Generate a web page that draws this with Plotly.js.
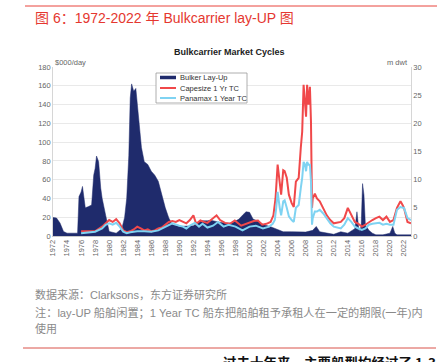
<!DOCTYPE html>
<html>
<head>
<meta charset="utf-8">
<script src="https://cdn.plot.ly/plotly-3.0.1.min.js"></script>
<style>html,body{margin:0;padding:0;background:#fff;}#chart{width:448px;height:362px;}</style>
</head>
<body>
<div id="chart"></div>
<script>
// ---- data ----
const layupYears = [1972.0,1972.5,1973.0,1973.5,1974.0,1975.0,1975.5,1975.7,1976.0,1976.2,1976.4,1976.6,1977.0,1977.5,1977.8,1978.0,1978.2,1978.5,1978.8,1979.0,1979.5,1980.0,1981.0,1981.8,1982.2,1982.5,1982.8,1983.0,1983.2,1983.5,1983.8,1984.0,1984.3,1984.6,1985.0,1985.5,1986.0,1986.5,1987.0,1987.5,1988.0,1988.5,1989.0,1990.0,1991.0,1992.0,1992.5,1993.0,1994.0,1994.5,1995.5,1996.5,1997.5,1998.5,1999.0,1999.5,2000.0,2000.5,2001.4,2002.0,2002.9,2003.8,2004.8,2006.0,2008.0,2009.0,2009.5,2010.0,2011.0,2012.0,2013.0,2014.0,2015.0,2015.3,2015.6,2015.9,2016.1,2016.3,2016.5,2017.0,2017.5,2018.0,2019.0,2020.0,2020.4,2020.7,2021.0,2023.0];
const layupMdwt  = [3.3,3.2,2.3,0.8,0.5,0.5,0.5,7.0,7.8,8.8,6.7,5.0,5.2,5.5,10.8,12.0,14.2,13.2,8.5,6.7,3.7,0.8,0.5,1.3,3.3,6.7,14.3,24.5,27.0,25.7,26.2,23.3,18.5,15.7,13.2,12.7,11.5,10.8,9.7,7.3,5.0,3.2,2.0,1.7,1.8,1.8,2.3,2.7,2.7,2.8,2.5,2.3,2.3,3.0,3.7,4.3,4.2,3.0,2.5,2.0,1.7,1.3,0.75,0.75,0.7,1.0,1.7,0.75,0.5,0.3,0.75,0.5,1.3,4.3,0.8,1.7,9.3,7.3,2.0,1.0,0.5,0.2,0.2,0.5,1.7,0.5,0.2,0.2];

const capeYears = [1976.0,1977.0,1978.0,1979.0,1979.5,1980.0,1980.5,1981.0,1981.5,1982.0,1982.5,1983.0,1983.5,1984.0,1984.5,1985.0,1985.5,1986.0,1986.5,1987.0,1987.5,1988.0,1988.5,1989.0,1989.5,1990.0,1990.5,1991.0,1991.5,1992.0,1992.4,1993.0,1993.5,1994.0,1994.5,1995.3,1995.8,1996.5,1997.2,1997.9,1998.8,1999.5,2000.0,2000.6,2001.2,2001.8,2002.4,2003.0,2003.4,2003.7,2004.0,2004.3,2004.5,2004.8,2005.0,2005.3,2005.6,2006.0,2006.3,2006.6,2007.0,2007.3,2007.5,2007.7,2007.9,2008.05,2008.2,2008.4,2008.6,2008.75,2008.9,2009.0,2009.3,2009.6,2010.0,2010.5,2011.0,2011.5,2012.0,2013.0,2013.5,2014.0,2014.5,2015.0,2015.5,2016.0,2016.5,2017.0,2017.5,2018.0,2018.5,2019.0,2019.5,2020.0,2020.5,2021.0,2021.5,2021.8,2022.0,2022.5,2023.0];
const capeRate  = [5,4.6,5,10,13.5,17,15,18,13.5,6,4,5,7,10,8,6,7,5,6,8,9,12,15,16,15,17,15,13.5,17,22,13,16.5,15,14,17,22,17,14,13,16.5,11,13,15,16,16.5,12,13,15,22,40,76,58,44,70,69,62,44,35,31,58,62,94,111,161,140,127,161,140,159,122,30,40,45,40,37,30,22,17,13.5,15,19,30,22,15,13,10,12,15,17,19,20.6,17,20.6,15,17,30,37,33,30,15,13.5];

const panaYears = [1976.0,1977.0,1978.0,1979.0,1979.5,1980.0,1980.5,1981.0,1981.5,1982.0,1982.5,1983.0,1984.0,1985.0,1986.0,1987.0,1988.0,1989.0,1990.0,1990.5,1991.0,1991.5,1992.2,1992.8,1993.3,1994.0,1994.8,1995.5,1996.3,1997.0,1998.0,1998.5,1999.0,2000.0,2000.9,2001.9,2002.8,2003.3,2003.6,2003.8,2004.0,2004.3,2004.5,2004.8,2005.0,2005.3,2005.6,2006.0,2006.3,2006.6,2007.0,2007.3,2007.5,2007.7,2007.9,2008.05,2008.2,2008.4,2008.6,2008.75,2008.9,2009.0,2009.3,2009.6,2010.0,2010.5,2011.0,2011.5,2012.0,2013.0,2013.5,2014.0,2014.5,2015.0,2015.5,2016.0,2016.5,2017.0,2017.5,2018.0,2018.5,2019.0,2019.5,2020.0,2020.5,2021.0,2021.5,2021.8,2022.0,2022.5,2023.0];
const panaRate  = [3,3.5,4.6,8,12,13.5,12,14,10,4.6,3,4,5,5,4.6,6,10,13.5,11,10,8,11,14,10,13,9,11,15,10,12,10,8,6,10,11,8,10,13,17,30,47,30,22,37,38,30,21,17,15,30,33,51,62,79,76,69,79,76,76,58,12,19,26,26,28,24,19,13.5,10,8,12,19,15,10,8,6.4,8,12,13,13.5,14,12,13,12,12,28,31,30,30,19,17];

const seriesNames = ["Bulker Lay-Up","Capesize 1 Yr TC","Panamax 1 Year TC"];
const leftTicks  = [0,20,40,60,80,100,120,140,160,180];
const rightTicks = [0,5,10,15,20,25,30];
const yearTicks = [];
for (let y = 1972; y <= 2022; y += 2) yearTicks.push(y);

// ---- styling ----
const NAVY = "#1f2b6c", RED = "#f0484a", CYAN = "#7fd3f2";
const W = 448, H = 362, ML = 53, MR = 37, MT = 67, MB = 126;
const PW = W - ML - MR, PH = H - MT - MB;
const px = x => (x - ML) / PW;
const py = y => 1 - (y - MT) / PH;
const tickFont = {family: "Liberation Sans, Arial, sans-serif", size: 7.5, color: "#666"};

const traces = [
  {x: layupYears, y: layupMdwt, type: "scatter", mode: "lines", fill: "tozeroy",
   fillcolor: NAVY, line: {color: NAVY, width: 0.5}, name: seriesNames[0], yaxis: "y", showlegend: false},
  {x: capeYears, y: capeRate, type: "scatter", mode: "lines",
   line: {color: RED, width: 2}, name: seriesNames[1], yaxis: "y2", showlegend: false},
  {x: panaYears, y: panaRate, type: "scatter", mode: "lines",
   line: {color: CYAN, width: 2}, name: seriesNames[2], yaxis: "y2", showlegend: false}
];

// legend (drawn manually)
const legX0 = 156, legX1 = 247, legY0 = 73, legY1 = 103;
const legRows = [77.5, 88, 98];
const legColors = [NAVY, RED, CYAN];
const legWidths = [3.5, 2, 2];
const shapes = [
  {type: "rect", xref: "paper", yref: "paper", x0: px(legX0), x1: px(legX1), y0: py(legY1), y1: py(legY0),
   line: {color: "#999", width: 0.8}, fillcolor: "#fff", layer: "above"},
  // red rule lines
  {type: "line", xref: "paper", yref: "paper", x0: px(25), x1: px(437), y0: py(6), y1: py(6), line: {color: "#e8453c", width: 1}},
  {type: "line", xref: "paper", yref: "paper", x0: px(23), x1: px(436), y0: py(348), y1: py(348), line: {color: "#d9534a", width: 1}}
];
const annotations = [];
legRows.forEach((ry, i) => {
  shapes.push({type: "line", xref: "paper", yref: "paper", x0: px(160), x1: px(176), y0: py(ry), y1: py(ry),
    line: {color: legColors[i], width: legWidths[i]}, layer: "above"});
  annotations.push({xref: "paper", yref: "paper", x: px(178), y: py(ry), xanchor: "left", yanchor: "middle",
    text: seriesNames[i], showarrow: false, font: {family: "Liberation Sans, Arial, sans-serif", size: 7.5, color: "#333"}});
});

annotations.push(
  {xref: "paper", yref: "paper", x: px(33), y: py(18), xanchor: "left", yanchor: "middle", showarrow: false,
   text: "图 6：1972-2022 年 Bulkcarrier lay-UP 图",
   font: {family: "Liberation Sans, Noto Sans CJK SC, sans-serif", size: 14, color: "#e5372f"}},
  {xref: "paper", yref: "paper", x: px(229), y: py(52), xanchor: "center", yanchor: "middle", showarrow: false,
   text: "<b>Bulkcarrier Market Cycles</b>",
   font: {family: "Liberation Sans, Arial, sans-serif", size: 9, color: "#222"}},
  {xref: "paper", yref: "paper", x: px(53), y: py(62), xanchor: "left", yanchor: "middle", showarrow: false,
   text: "$000/day", font: tickFont},
  {xref: "paper", yref: "paper", x: px(410), y: py(62), xanchor: "right", yanchor: "middle", showarrow: false,
   text: "m dwt", font: tickFont},
  {xref: "paper", yref: "paper", x: px(33), y: py(294), xanchor: "left", yanchor: "middle", showarrow: false,
   text: "数据来源：Clarksons，东方证券研究所",
   font: {family: "Liberation Sans, Noto Sans CJK SC, sans-serif", size: 11, color: "#8a8a8a"}},
  {xref: "paper", yref: "paper", x: px(33), y: py(312), xanchor: "left", yanchor: "middle", showarrow: false,
   text: "注：lay-UP 船舶闲置；1 Year TC 船东把船舶租予承租人在一定的期限(一年)内",
   font: {family: "Liberation Sans, Noto Sans CJK SC, sans-serif", size: 11.2, color: "#8a8a8a"}},
  {xref: "paper", yref: "paper", x: px(33), y: py(329), xanchor: "left", yanchor: "middle", showarrow: false,
   text: "使用",
   font: {family: "Liberation Sans, Noto Sans CJK SC, sans-serif", size: 11, color: "#8a8a8a"}},
  {xref: "paper", yref: "paper", x: px(221), y: py(362), xanchor: "left", yanchor: "middle", showarrow: false,
   text: "<b>过去十年来，主要船型均经过了 1-3</b>",
   font: {family: "Noto Sans CJK SC, sans-serif", size: 13.5, color: "#111"}}
);

const layout = {
  width: W, height: H,
  margin: {l: ML, r: MR, t: MT, b: MB, pad: 0},
  paper_bgcolor: "#fff", plot_bgcolor: "#fff",
  showlegend: false,
  xaxis: {range: [1972, 2023], tickmode: "array", tickvals: yearTicks, ticktext: yearTicks.map(String),
          tickangle: -90, tickfont: tickFont, showgrid: false, zeroline: false,
          showline: true, linecolor: "#bbb", linewidth: 0.8, ticks: "", ticklen: 0},
  yaxis: {range: [0, 30], side: "right", tickmode: "array", tickvals: rightTicks, tickfont: tickFont,
          showgrid: false, zeroline: false, showline: true, linecolor: "#ccc", linewidth: 0.8, ticks: ""},
  yaxis2: {range: [0, 180], overlaying: "y", side: "left", tickmode: "array", tickvals: leftTicks, tickfont: tickFont,
           showgrid: true, gridcolor: "#e3e3e3", gridwidth: 0.8, zeroline: false,
           showline: true, linecolor: "#ccc", linewidth: 0.8, ticks: ""},
  shapes: shapes,
  annotations: annotations
};

Plotly.newPlot("chart", traces, layout, {displayModeBar: false, staticPlot: true});
</script>
</body>
</html>
